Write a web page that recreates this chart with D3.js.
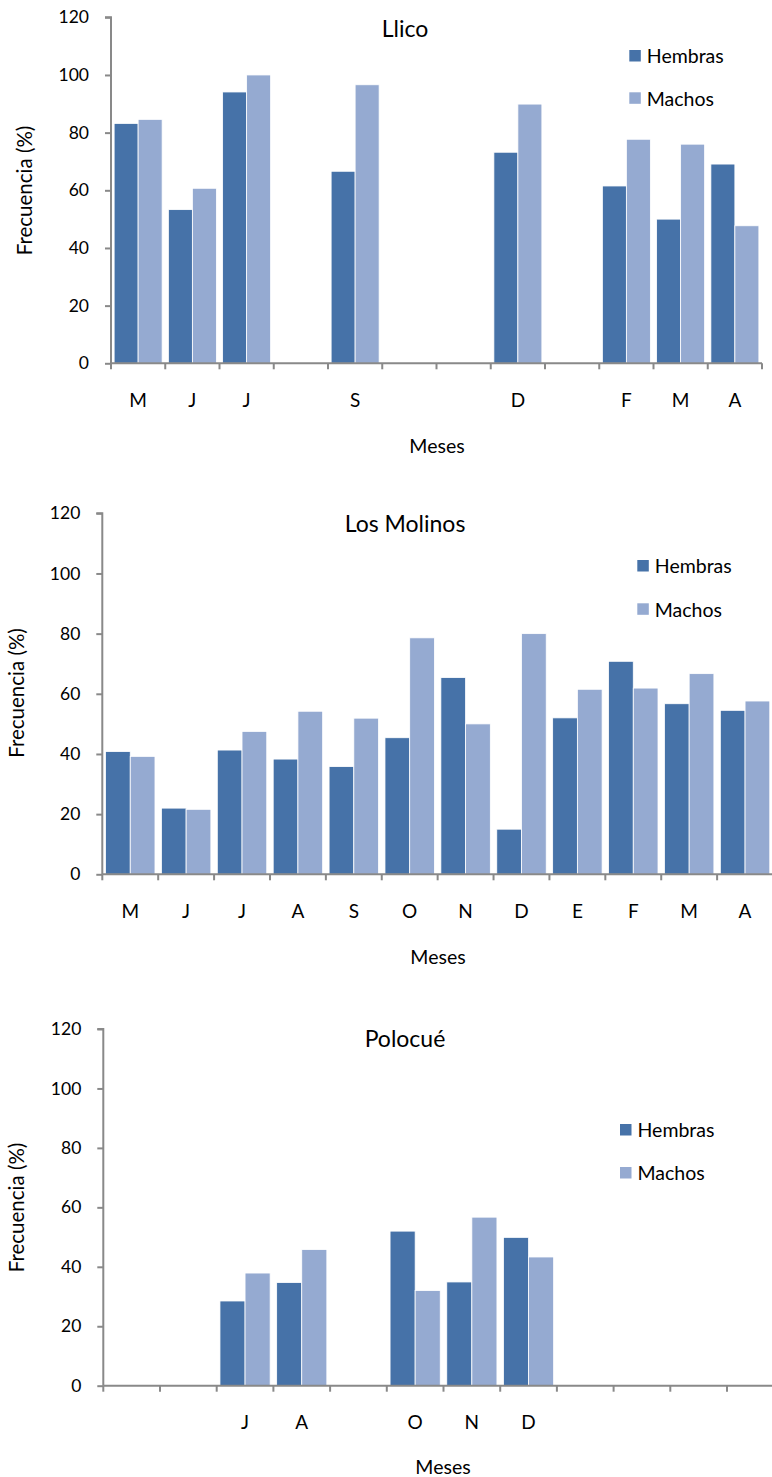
<!DOCTYPE html>
<html>
<head>
<meta charset="utf-8">
<script src="https://cdn.jsdelivr.net/npm/d3@7/dist/d3.min.js"></script>
<style>
  html, body { margin: 0; padding: 0; background: #fff; }
  svg { display: block; font-family: Lato, "Open Sans", sans-serif; }
</style>
</head>
<body>
<svg id="chart" width="772" height="1477"></svg>
<script>
// Monthly frequency (%) of females (Hembras) and males (Machos) at three sites.
// Months run May → April; null means no sample that month.
const seriesNames = ["Hembras", "Machos"];
const yTicks = [0, 20, 40, 60, 80, 100, 120];

const llicoLabels   = ["M", "J", "J", "", "S", "", "", "D", "", "F", "M", "A"];
const llicoHembras  = [83.2, 53.3, 94.1, null, 66.6, null, null, 73.2, null, 61.5, 50.0, 69.1];
const llicoMachos   = [84.6, 60.7, 100, null, 96.6, null, null, 89.9, null, 77.7, 76.0, 47.7];

const molinosLabels  = ["M", "J", "J", "A", "S", "O", "N", "D", "E", "F", "M", "A"];
const molinosHembras = [40.8, 22.0, 41.3, 38.3, 35.8, 45.4, 65.4, 15.0, 52.0, 70.8, 56.7, 54.5];
const molinosMachos  = [39.2, 21.6, 47.5, 54.2, 51.9, 78.6, 50.0, 80.0, 61.5, 61.9, 66.7, 57.6];

const polocueLabels  = ["", "", "J", "A", "", "O", "N", "D", "", "", "", ""];
const polocueHembras = [null, null, 28.5, 34.7, null, 52.0, 34.9, 49.9, null, null, null, null];
const polocueMachos  = [null, null, 37.9, 45.8, null, 32.0, 56.7, 43.3, null, null, null, null];

const colors = { Hembras: "#4672a8", Machos: "#95aad1" };
const axisColor = "#898989";

const svg = d3.select("#chart");

function drawPanel(p) {
  const g = svg.append("g");
  const n = p.labels.length;

  const x = d3.scaleBand().domain(d3.range(n)).range([p.x0, p.x1]).padding(0);
  const xi = d3.scaleBand().domain(seriesNames).range([0, x.bandwidth()])
    .paddingInner(0).paddingOuter(0.13);
  const y = d3.scaleLinear().domain([0, 120]).range([p.yBottom, p.yTop]);

  // bars
  const rows = d3.range(n).map(i => ({ i, Hembras: p.hembras[i], Machos: p.machos[i] }));
  const grp = g.selectAll("g.grp").data(rows).join("g")
    .attr("transform", d => `translate(${x(d.i)},0)`);
  grp.selectAll("rect")
    .data(d => seriesNames.filter(k => d[k] != null).map(k => ({ k, v: d[k] })))
    .join("rect")
    .attr("x", d => xi(d.k))
    .attr("width", xi.bandwidth())
    .attr("y", d => y(d.v))
    .attr("height", d => y(0) - y(d.v))
    .attr("fill", d => colors[d.k])
    .attr("stroke", "#ffffff")
    .attr("stroke-width", 0.8);

  // y axis
  const yAxis = d3.axisLeft(y).tickValues(yTicks).tickSize(6).tickPadding(16);
  const ya = g.append("g").attr("transform", `translate(${p.x0},0)`).call(yAxis);
  ya.select(".domain").attr("stroke", axisColor).attr("stroke-width", 2)
    .attr("d", `M-6,${p.yTop}H0V${p.yBottom}`);
  ya.selectAll(".tick line").attr("stroke", axisColor).attr("stroke-width", 2);
  ya.selectAll(".tick text").attr("fill", "#000").style("font-size", "17.5px")
    .style("font-family", "Lato, sans-serif");

  // x axis: ticks on band boundaries, labels centred in bands
  const xa = g.append("g").attr("transform", `translate(0,${p.yBottom})`);
  xa.append("path").attr("d", `M${p.x0},0H${p.x1}`)
    .attr("stroke", axisColor).attr("stroke-width", 2).attr("fill", "none");
  xa.selectAll("line.tk").data(d3.range(n + 1)).join("line")
    .attr("class", "tk")
    .attr("x1", i => p.x0 + i * x.step()).attr("x2", i => p.x0 + i * x.step())
    .attr("y1", 0).attr("y2", 6)
    .attr("stroke", axisColor).attr("stroke-width", 2);
  xa.selectAll("text").data(d3.range(n)).join("text")
    .attr("x", i => x(i) + x.bandwidth() / 2)
    .attr("y", p.xLabelDy)
    .attr("text-anchor", "middle")
    .style("font-size", "19px")
    .text(i => p.labels[i]);

  // title
  g.append("text").attr("x", p.titleX).attr("y", p.titleY)
    .attr("text-anchor", "middle").style("font-size", "23px").text(p.title);

  // axis titles
  g.append("text").attr("x", p.mesesX).attr("y", p.mesesY)
    .attr("text-anchor", "middle").style("font-size", "19.5px").text("Meses");
  g.append("text")
    .attr("transform", `translate(${p.yTitleX},${p.yTitleY}) rotate(-90)`)
    .attr("text-anchor", "middle").style("font-size", "20.5px").text("Frecuencia (%)");

  // legend
  const lg = g.append("g").attr("transform", `translate(${p.legX},${p.legY})`);
  seriesNames.forEach((k, j) => {
    lg.append("rect").attr("x", 0).attr("y", j * p.legGap).attr("width", 11.5).attr("height", 11.5)
      .attr("fill", colors[k]);
    lg.append("text").attr("x", 17.5).attr("y", j * p.legGap + 13.3)
      .style("font-size", "19.5px").text(k);
  });
}

drawPanel({
  title: "Llico", labels: llicoLabels, hembras: llicoHembras, machos: llicoMachos,
  x0: 111, x1: 762, yTop: 17.3, yBottom: 363.3, xLabelDy: 44,
  titleX: 405, titleY: 37, mesesX: 437, mesesY: 453,
  yTitleX: 32, yTitleY: 190.5, legX: 629.3, legY: 50, legGap: 42.3
});
drawPanel({
  title: "Los Molinos", labels: molinosLabels, hembras: molinosHembras, machos: molinosMachos,
  x0: 102.3, x1: 773, yTop: 513.3, yBottom: 874.3, xLabelDy: 44,
  titleX: 405, titleY: 531.7, mesesX: 438, mesesY: 964,
  yTitleX: 23.5, yTitleY: 693, legX: 637.3, legY: 560, legGap: 43.3
});
drawPanel({
  title: "Polocué", labels: polocueLabels, hembras: polocueHembras, machos: polocueMachos,
  x0: 103.3, x1: 783.7, yTop: 1029, yBottom: 1385.7, xLabelDy: 43,
  titleX: 405, titleY: 1046.7, mesesX: 443, mesesY: 1474,
  yTitleX: 23.5, yTitleY: 1207.5, legX: 620, legY: 1124, legGap: 43
});
</script>
</body>
</html>
